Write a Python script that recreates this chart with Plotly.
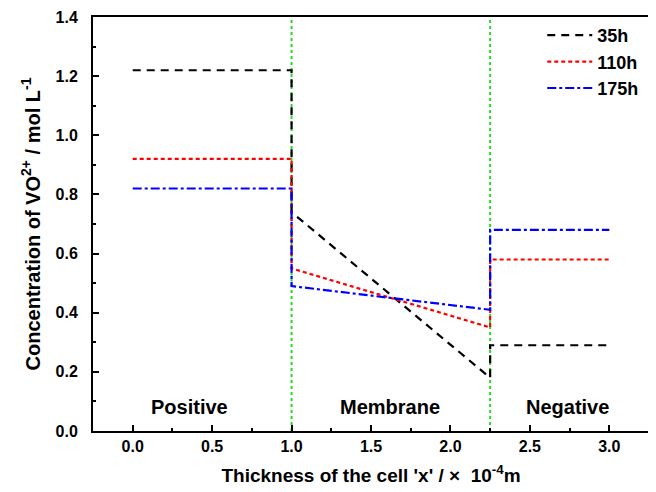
import plotly.graph_objects as go

# Data
series_names = ["35h", "110h", "175h"]
x_pos = [0.0, 1.0]
x_mem = [1.0, 2.25]
x_neg = [2.25, 3.0]
positive_vals = [1.22, 0.92, 0.82]
membrane_left = [0.74, 0.55, 0.49]
membrane_right = [0.18, 0.35, 0.41]
negative_vals = [0.29, 0.58, 0.68]
colors = ["black", "red", "blue"]
dashes = ["8px,6px", "4px,3px", "dashdot"]
boundaries = [1.0, 2.25]
region_labels = ["Positive", "Membrane", "Negative"]
region_x = [0.36, 1.62, 2.74]

FONT = "Liberation Sans"

fig = go.Figure()
for i, name in enumerate(series_names):
    xs = [x_pos[0], x_pos[1], x_mem[0], x_mem[1], x_neg[0], x_neg[1]]
    ys = [positive_vals[i], positive_vals[i], membrane_left[i], membrane_right[i],
          negative_vals[i], negative_vals[i]]
    fig.add_trace(go.Scatter(x=xs, y=ys, mode="lines", name=name,
                             line=dict(color=colors[i], dash=dashes[i], width=2.2)))

for b in boundaries:
    fig.add_shape(type="line", x0=b, x1=b, y0=0, y1=1, xref="x", yref="paper",
                  line=dict(color="#22dd22", width=2, dash="dot"), layer="below")

for lbl, xx in zip(region_labels, region_x):
    fig.add_annotation(x=xx, y=0.08, text=lbl, showarrow=False,
                       font=dict(size=20, color="black", family=FONT, weight="bold"),
                       xref="x", yref="y")

fig.update_layout(
    width=648, height=484,
    margin=dict(l=85, r=7, t=9, b=61, autoexpand=False),
    plot_bgcolor="white", paper_bgcolor="white",
    font=dict(family=FONT, color="black", size=16),
    legend=dict(x=0.808, y=1.0, xanchor="left", yanchor="top",
                bgcolor="rgba(0,0,0,0)", itemwidth=45,
                font=dict(size=18, family=FONT, weight="bold"),
                tracegroupgap=0),
    showlegend=True,
)
fig.update_xaxes(range=[-0.25, 3.25], tick0=0, dtick=0.5, tickformat=".1f",
                 ticks="inside", ticklen=6, tickwidth=1.5, tickcolor="black",
                 minor=dict(ticks="inside", ticklen=3, dtick=0.25, tick0=0, tickcolor="black"),
                 showline=True, linecolor="black", linewidth=2, mirror=True,
                 showgrid=False, zeroline=False, automargin=False,
                 tickfont=dict(size=16, family=FONT, weight="bold"),
                 title=dict(text="Thickness of the cell 'x' / ×  10<sup>-4</sup>m",
                            font=dict(size=19, family=FONT, weight="bold"), standoff=14))
fig.update_yaxes(range=[0, 1.4], dtick=0.2, tickformat=".1f",
                 ticks="inside", ticklen=6, tickwidth=1.5, tickcolor="black",
                 minor=dict(ticks="inside", ticklen=3, dtick=0.1, tickcolor="black"),
                 showline=True, linecolor="black", linewidth=2, mirror=True,
                 showgrid=False, zeroline=False, automargin=False,
                 ticklabelstandoff=10,
                 tickfont=dict(size=16, family=FONT, weight="bold"),
                 title=dict(text="Concentration of VO<sup>2+</sup> / mol L<sup>-1</sup>",
                            font=dict(size=20, family=FONT, weight="bold"), standoff=10))

fig.write_html("out.html")
